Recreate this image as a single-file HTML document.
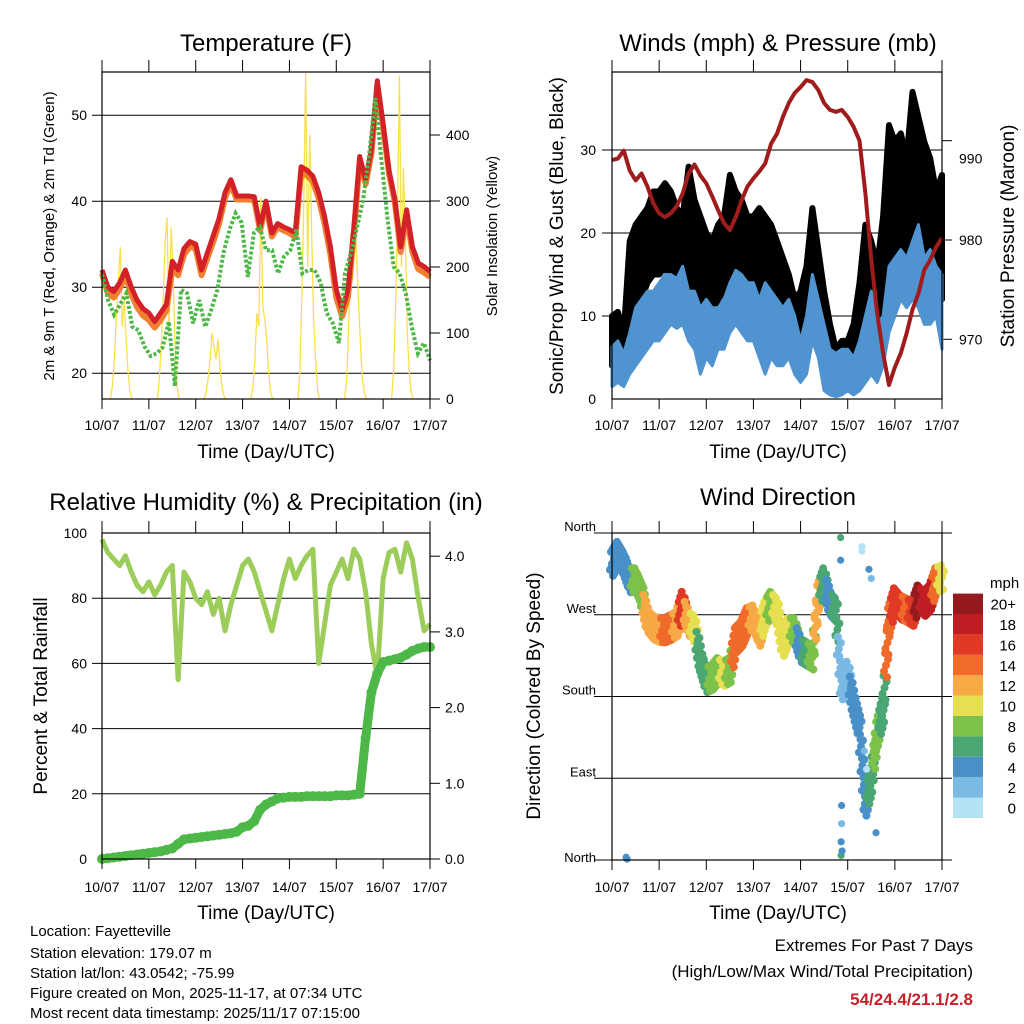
<!DOCTYPE html>
<html><head><meta charset="utf-8">
<style>
html,body{margin:0;padding:0;background:#fff;}
svg{display:block;font-family:"Liberation Sans",sans-serif;}
</style></head>
<body>
<svg id="chart" width="1024" height="1024" viewBox="0 0 1024 1024" xmlns="http://www.w3.org/2000/svg">
<rect x="0" y="0" width="1024" height="1024" fill="#fff"/>
<g font-size="24" text-anchor="middle" fill="#000">
<text x="266" y="51">Temperature (F)</text>
<text x="778" y="51">Winds (mph) &amp; Pressure (mb)</text>
<text x="266" y="510">Relative Humidity (%) &amp; Precipitation (in)</text>
<text x="778" y="505">Wind Direction</text>
</g>
<g font-size="19" text-anchor="middle">
<text x="266" y="458">Time (Day/UTC)</text>
<text x="778" y="458">Time (Day/UTC)</text>
<text x="266" y="919">Time (Day/UTC)</text>
<text x="778" y="919">Time (Day/UTC)</text>
</g>
<text transform="translate(54,236) rotate(-90)" font-size="15" text-anchor="middle">2m &amp; 9m T (Red, Orange) &amp; 2m Td (Green)</text>
<text transform="translate(497,236) rotate(-90)" font-size="15" text-anchor="middle">Solar Insolation (Yellow)</text>
<text transform="translate(563,236) rotate(-90)" font-size="19" text-anchor="middle">Sonic/Prop Wind &amp; Gust (Blue, Black)</text>
<text transform="translate(1014,236) rotate(-90)" font-size="19" text-anchor="middle">Station Pressure (Maroon)</text>
<text transform="translate(47,696) rotate(-90)" font-size="19" text-anchor="middle">Percent &amp; Total Rainfall</text>
<text transform="translate(540,696) rotate(-90)" font-size="19" text-anchor="middle">Direction (Colored By Speed)</text>
<g font-size="15">
<text x="30" y="936">Location: Fayetteville</text>
<text x="30" y="958">Station elevation: 179.07 m</text>
<text x="30" y="978">Station lat/lon: 43.0542; -75.99</text>
<text x="30" y="998">Figure created on Mon, 2025-11-17, at 07:34 UTC</text>
<text x="30" y="1018">Most recent data timestamp: 2025/11/17 07:15:00</text>
</g>
<g font-size="17" text-anchor="end">
<text x="973" y="951">Extremes For Past 7 Days</text>
<text x="973" y="977">(High/Low/Max Wind/Total Precipitation)</text>
<text x="973" y="1005" font-weight="bold" fill="#c8202a">54/24.4/21.1/2.8</text>
</g>
</svg>
<script>
// ---------- data ----------
const dayLabels = ["10/07","11/07","12/07","13/07","14/07","15/07","16/07","17/07"];
const tempTicks = [20,30,40,50];
const solarTicks = [0,100,200,300,400];
const windTicks = [0,10,20,30];
const pressTicks = [970,980,990];
const rhTicks = [0,20,40,60,80,100];
const rainTicks = [0,1,2,3,4];
const dirTicks = ["North","East","South","West","North"];
const speedLabels = ["0","2","4","6","8","10","12","14","16","18","20+"];

const temp2m = [32,30,29.5,30.5,32,30,28.5,27.5,27,26,27,28,33,32,34.5,35.3,35,32,34,36,38,41,42.5,40.6,40.6,40.6,40.5,37,40,36.3,37.4,37,36.7,36.3,44,43.6,42.9,41,38.2,34.7,29.7,27.4,29.7,37,45.2,42.5,46,54,49,43.6,40.2,34.7,39,34.7,32.8,32.4,31.8];
const temp9m = [31.6,29.3,28.8,29.8,31.4,29.2,27.7,26.7,26.2,25.3,26.2,27.3,32.2,31.4,33.8,34.7,34.5,31.4,33.4,35.3,37.4,40.4,42,40.2,40.2,40.2,40.1,36.6,39.6,35.9,37,36.6,36.3,35.8,43.4,43,42.3,40.3,37.4,33.8,28.8,26.6,28.9,36.3,44.6,42,45.5,53.5,48.6,43.2,39.8,34.1,38.4,34.1,32.1,31.7,31.2];
const dewpoint = [31.5,28.5,26.8,28,29.3,25.4,25,23.1,22,22.3,23,26,18.5,29.7,29.3,25.8,28.5,25.4,27.4,29.7,34,36.7,38.6,37.5,31.2,36.3,37,34.3,34.3,31.6,33.6,34.3,36.7,31.6,32,32,30.5,27,25.8,23.5,31.6,34,37,40.2,45.6,52,44.8,38,32.4,31.6,29.3,25.4,22.3,23.5,21.5];
const solarDay0 = [0,20,60,120,180,230,110,150,90,40,10,0];
const solarDay1 = [0,30,80,150,240,275,100,260,200,80,20,0];
const solarDay2 = [0,10,30,60,100,80,60,90,50,20,5,0];
const solarDay3 = [0,20,60,130,110,306,140,120,90,40,10,0];
const solarDay4 = [0,40,150,300,494,200,400,260,120,60,15,0];
const solarDay5 = [0,30,110,250,180,300,220,150,80,30,10,0];
const solarDay6 = [0,40,130,280,490,200,350,250,100,40,10,0];

const pressure = [988.05,988.2,989,987,986,986.7,985.4,983.7,982.7,982.3,982.7,983.4,984.7,986.7,987.6,986.5,985.7,984.4,983,981.7,981,982.3,984,985.4,986.2,986.9,987.7,989.7,990.7,992.4,993.8,994.8,995.4,996.1,995.9,995.1,993.8,993.1,992.9,993.1,992.4,991.4,990,984.7,978,972.6,968.6,965.4,967.2,968.6,970.6,973,974.6,977,978,979.3,980.2];
const windHi = [6.3,7,5.5,8,11,12,13,13,14,15,15,14.5,16,13,13,11,12,11,11,12,14,15.5,15,14,14,12,14,13,12,11,12,10,7,10,15,12,9,6,5.5,6,6,5,7,10,13,9,10,16,17,18,17,19,21,17,18,16,15];
const windLo = [1.5,2,1.5,3,4,5,6,7,7,8,9,8.5,9,7,6,3,5,4,6,6,8,9,8,7,7,5,3,5,4,4,5,3,2,3,7,5,1,0.5,0.3,0.5,1,0.5,1,2,3,2,4,8,10,12,11,12,11,9,9,10,6];
const gustHi = [10,10.5,8,19,21,22,23,25,25,26,25,23,22,28,24,22,20,19,21,22,27,25,24,22,22,23,22,21,19,17,15,12,13,16,23,18,13,9,6,7,7,9,14,21,19,16,22,33,31,32,29,37,34,31,29,25,27];
const gustLo = [4,5,4,10,12,12,14,15,15,16,14,15,14,11,10,10,10,9,12,13,15,13,12,10,9,10,7,9,9,8,7,5,6,8,10,9,4,2,2,3,3,4,6,5,8,6,8,15,17,18,17,18,18,16,14,14,12];

const humidity = [98,94,92,90,93,88,84,82,85,81,84,88,90,55,88,85,80,78,82,75,80,70,78,84,90,92,88,82,76,70,78,86,92,86,90,93,95,60,72,84,88,92,86,95,92,82,66,56,86,94,95,88,97,92,80,70,72];
const rainfall = [0,0.01,0.02,0.03,0.04,0.05,0.06,0.07,0.08,0.09,0.1,0.12,0.14,0.2,0.26,0.27,0.28,0.29,0.3,0.31,0.32,0.33,0.34,0.36,0.42,0.44,0.5,0.65,0.72,0.76,0.8,0.81,0.82,0.82,0.82,0.83,0.83,0.83,0.83,0.83,0.84,0.84,0.84,0.85,0.86,1.6,2.2,2.45,2.6,2.62,2.64,2.66,2.7,2.75,2.78,2.8,2.8];

const dirDeg = [326,337,326,308,308,293,264,256,253,253,256,260,282,260,256,220,198,201,209,205,209,242,249,264,267,249,271,282,275,238,253,253,231,227,223,289,308,282,275,190,205,172,146,62,88,139,165,264,286,278,275,271,289,282,289,308,311];
const dirSpeed = [4,4,4,5,8,9,12,12,13,14,14,13,16,12,10,7,7,8,9,10,8,14,14,14,13,12,11,8,10,10,11,9,5,6,8,12,7,4,6,3,3,4,4,5,6,8,6,14,16,17,14,16,20,18,18,15,11];
const extraTime = [0.3,0.32,4.85,4.85,4.86,4.86,4.87,4.87,4.88,5.3,5.3,5.45,5.5,5.6,5.35,5.4];
const extraDir = [3,1,355,330,20,5,40,60,10,345,340,320,310,30,120,100];
const extraSpeed = [4,4,6,5,4,6,3,4,5,1,1,4,3,4,2,1];

// ---------- helpers ----------
const svg = document.getElementById('chart');
const NS = 'http://www.w3.org/2000/svg';
function el(tag, attrs, parent){
  const e = document.createElementNS(NS, tag);
  for (const k in attrs) e.setAttribute(k, attrs[k]);
  (parent||svg).appendChild(e);
  return e;
}
function pts(arr, fx, fy){ return arr.map((v,i)=>fx(i,arr.length).toFixed(1)+','+fy(v).toFixed(1)).join(' '); }
const speedColors = ["#b3e2f7","#7ab9e3","#4a90c8","#4aa672","#7cc24a","#e6e050","#f7a945","#f06a2a","#e03a27","#c01e24","#951a1d"];
function speedColor(s){ return speedColors[Math.max(0,Math.min(10,Math.floor(s/2)))]; }

function frame(x0,x1,yT,yB,name,xlabY){
  const g = el('g',{});
  
  
  for (let d=0; d<=7; d++){
    const x = x0 + d*(x1-x0)/7;
    const t1 = el('line',{x1:x,x2:x,y1:yT-12,y2:yT,stroke:'#000','stroke-width':1},g);
    
    const t2 = el('line',{x1:x,x2:x,y1:yB,y2:yB+10,stroke:'#000','stroke-width':1},g);
    
    const lb = el('text',{x:x,y:xlabY,'font-size':14,'text-anchor':'middle'},g);
    
    lb.textContent = dayLabels[d];
  }
  const r = el('rect',{x:x0,y:yT,width:x1-x0,height:yB-yT,fill:'none',stroke:'#000','stroke-width':1.2},g);
  
  return g;
}
function hgrid(x0,x1,y,name){
  const l = el('line',{x1:x0-10,x2:x1,y1:y,y2:y,stroke:'#000','stroke-width':1});
  
}
function leftLabel(x,y,txt,name,size){
  const t = el('text',{x:x,y:y+5,'font-size':size||14,'text-anchor':'end'});
  
  t.textContent = txt;
}
function rightLabel(x,y,txt,name,size){
  const t = el('text',{x:x,y:y+5,'font-size':size||14,'text-anchor':'start'});
  
  t.textContent = txt;
}

// ---------- Panel 1: Temperature ----------
(function(){
  const x0=102,x1=430,yT=72,yB=399;
  const fx=(i,n)=>x0+i/(n-1)*(x1-x0);
  const ty=v=>yB-(v-17)*8.6;
  const sy=v=>yB-v*0.66;
  tempTicks.forEach(v=>{ hgrid(x0,x1,ty(v),'temp-gridline'); leftLabel(x0-15,ty(v),String(v),'temp-tick-label'); });
  solarTicks.forEach(v=>{
    const tk = el('line',{x1:x1,x2:x1+10,y1:sy(v),y2:sy(v),stroke:'#000'});
    
    rightLabel(x1+16,sy(v),String(v),'solar-tick-label');
  });
  const days=[solarDay0,solarDay1,solarDay2,solarDay3,solarDay4,solarDay5,solarDay6];
  days.forEach((arr,d)=>{
    const p = el('polyline',{points:arr.map((v,i)=>(x0+(d+0.18+i*0.042)*(x1-x0)/7).toFixed(1)+','+sy(v).toFixed(1)).join(' '),fill:'none',stroke:'#f9e04a','stroke-width':1.3});
    
  });
  const o = el('polyline',{points:pts(temp9m,fx,ty),fill:'none',stroke:'#f08030','stroke-width':6,'stroke-linejoin':'round'});
  
  const r = el('polyline',{points:pts(temp2m,fx,ty),fill:'none',stroke:'#d42027','stroke-width':5,'stroke-linejoin':'round'});
  
  const g = el('polyline',{points:pts(dewpoint,fx,ty),fill:'none',stroke:'#4db848','stroke-width':4,'stroke-dasharray':'3 2'});
  
  frame(x0,x1,yT,yB,'temperature',430);
})();

// ---------- Panel 2: Winds & Pressure ----------
(function(){
  const x0=612,x1=942,yT=72,yB=399;
  const fx=(i,n)=>x0+i/(n-1)*(x1-x0);
  const wy=v=>yB-v*8.3;
  const py=v=>240-(v-980)*9.93;
  windTicks.forEach(v=>{ if(v>0) hgrid(x0,x1,wy(v),'wind-gridline'); leftLabel(x0-16,wy(v),String(v),'wind-tick-label'); });
  pressTicks.forEach(v=>{
    const tk = el('line',{x1:x1,x2:x1+10,y1:py(v),y2:py(v),stroke:'#000'});
    
    rightLabel(x1+17,py(v)+(v===990?18:0),String(v),'pressure-tick-label');
  });
  const gb = el('polygon',{points:pts(gustHi,fx,wy)+' '+gustLo.map((v,i)=>fx(i,gustLo.length).toFixed(1)+','+wy(v).toFixed(1)).reverse().join(' '),fill:'#000',stroke:'#000','stroke-width':6,'stroke-linejoin':'round'});
  
  const wb = el('polygon',{points:pts(windHi,fx,wy)+' '+windLo.map((v,i)=>fx(i,windLo.length).toFixed(1)+','+wy(v).toFixed(1)).reverse().join(' '),fill:'#4f94d0',stroke:'#4f94d0','stroke-width':3,'stroke-linejoin':'round'});
  
  const p = el('polyline',{points:pts(pressure,fx,py),fill:'none',stroke:'#a01c1c','stroke-width':4,'stroke-linejoin':'round'});
  
  frame(x0,x1,yT,yB,'winds',430);
})();

// ---------- Panel 3: RH & Precip ----------
(function(){
  const x0=102,x1=430,yT=533,yB=859;
  const fx=(i,n)=>x0+i/(n-1)*(x1-x0);
  const hy=v=>yB-v*3.26;
  const ry=v=>yB-v*75.7;
  rhTicks.forEach(v=>{ if(v>0&&v<100) hgrid(x0,x1,hy(v),'humidity-gridline'); leftLabel(x0-15,hy(v),String(v),'humidity-tick-label'); });
  rainTicks.forEach(v=>{
    const tk = el('line',{x1:x1,x2:x1+10,y1:ry(v),y2:ry(v),stroke:'#000'});
    
    rightLabel(x1+15,ry(v),v.toFixed(1),'rain-tick-label');
  });
  const h = el('polyline',{points:pts(humidity,fx,hy),fill:'none',stroke:'#9ccd5a','stroke-width':5,'stroke-linejoin':'round'});
  
  const r = el('polyline',{points:pts(rainfall,fx,ry),fill:'none',stroke:'#4db848','stroke-width':9,'stroke-linejoin':'round','stroke-linecap':'round'});
  
  rainfall.forEach((v,i)=>{
    const c = el('circle',{cx:fx(i,rainfall.length),cy:ry(v),r:5,fill:'#4db848'});
    
  });
  frame(x0,x1,yT,yB,'humidity',892);
})();

// ---------- Panel 4: Wind Direction ----------
(function(){
  const x0=612,x1=942,yT=533,yB=860;
  const dy=d=>yB-d*327/360;
  const tx=t=>x0+t*(x1-x0)/7;
  dirTicks.forEach((lab,i)=>{
    const y = dy(i*90);
    const l = el('line',{x1:x0-18,x2:x1+10,y1:y,y2:y,stroke:'#000','stroke-width':1});
    
    leftLabel(x0-16,y-7+ (i===0?4:0),lab,'direction-tick-label',13);
  });
  const offs=[[0,0],[-2,6],[2,-6],[-1,-12],[1,12]];
  const n = dirDeg.length;
  for (let i=0;i<n;i++){
    const steps = i<n-1 ? 4 : 1;
    for (let s=0;s<steps;s++){
      const f = s/4;
      const d = i<n-1 ? dirDeg[i]+(dirDeg[i+1]-dirDeg[i])*f : dirDeg[i];
      const t = (i+f)/(n-1)*7;
      const col = speedColor(f<0.5 ? dirSpeed[i] : dirSpeed[i+1]);
      offs.forEach(o=>{
        const c = el('circle',{cx:tx(t)+o[0],cy:dy(d)+o[1],r:4,fill:col});
        
      });
    }
  }
  extraTime.forEach((t,i)=>{
    const c = el('circle',{cx:tx(t),cy:dy(extraDir[i]),r:3.6,fill:speedColor(extraSpeed[i])});
    
  });
  frame(x0,x1,yT,yB,'direction',892);
  const lg = el('g',{});
  
  
  const tt = el('text',{x:990,y:588,'font-size':15},lg);
  
  tt.textContent = 'mph';
  speedLabels.forEach((lab,i)=>{
    const y = 818 - (i+1)*20.4;
    const r = el('rect',{x:953,y:y,width:30,height:20.4,fill:speedColors[i]},lg);
    
    const t = el('text',{x:1016,y:y+16,'font-size':15,'text-anchor':'end'},lg);
    
    t.textContent = lab;
  });
})();
</script>
</body></html>
